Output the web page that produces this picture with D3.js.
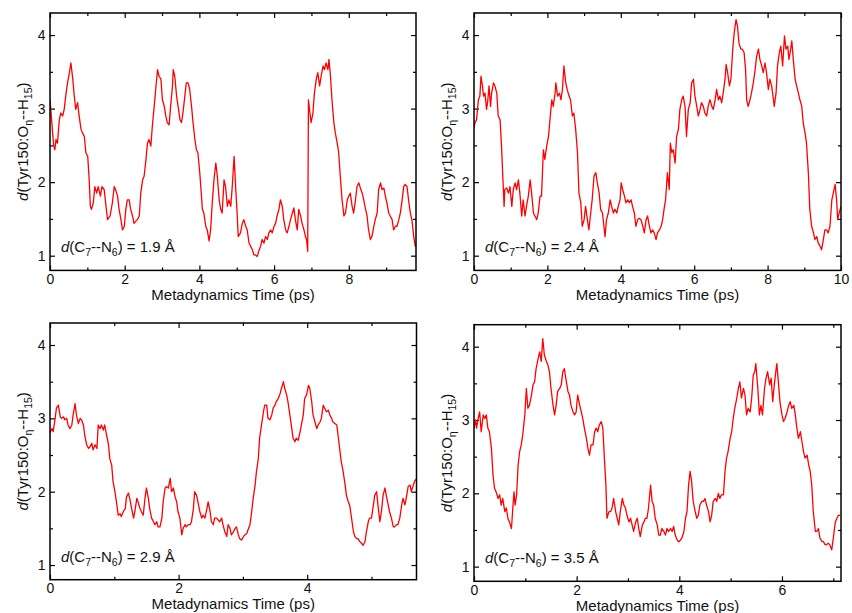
<!DOCTYPE html>
<html>
<head>
<meta charset="utf-8">
<script src="https://cdnjs.cloudflare.com/ajax/libs/d3/7.8.5/d3.min.js"></script>
<style>
  body { margin: 0; background: #fff; }
  svg { font-family: "Liberation Sans", Arial, Helvetica, sans-serif; }
</style>
</head>
<body>
<svg id="chart" width="852" height="613"></svg>
<script>
// [time (ps), d(Tyr150:O..H15) (A)]
var run19 = [[0,3.12],[0.03,2.94],[0.07,2.67],[0.1,2.49],[0.13,2.44],[0.16,2.58],[0.2,2.53],[0.25,2.85],[0.29,2.94],[0.34,2.9],[0.38,2.99],[0.43,3.21],[0.47,3.35],[0.52,3.49],[0.56,3.62],[0.61,3.4],[0.65,3.17],[0.69,2.99],[0.74,3.08],[0.78,2.9],[0.83,2.72],[0.87,2.67],[0.92,2.62],[0.96,2.4],[1.01,2.35],[1.05,2.03],[1.08,1.67],[1.11,1.63],[1.16,1.72],[1.2,1.94],[1.25,1.85],[1.29,1.94],[1.35,1.81],[1.39,1.94],[1.45,1.9],[1.5,1.67],[1.54,1.49],[1.61,1.54],[1.67,1.72],[1.72,1.94],[1.76,1.89],[1.81,1.81],[1.85,1.63],[1.9,1.49],[1.94,1.35],[1.99,1.4],[2.03,1.63],[2.07,1.76],[2.12,1.76],[2.16,1.63],[2.21,1.54],[2.25,1.44],[2.3,1.47],[2.34,1.49],[2.39,1.54],[2.43,1.85],[2.48,2.03],[2.52,2.08],[2.57,2.31],[2.61,2.53],[2.65,2.58],[2.7,2.49],[2.74,2.76],[2.79,3.03],[2.83,3.26],[2.88,3.53],[2.92,3.44],[2.97,3.4],[3.01,3.12],[3.06,3.03],[3.1,2.9],[3.14,2.81],[3.19,2.78],[3.23,3.03],[3.28,3.31],[3.3,3.53],[3.34,3.44],[3.39,3.17],[3.43,3.03],[3.48,2.85],[3.52,2.81],[3.56,2.94],[3.61,3.17],[3.65,3.35],[3.7,3.35],[3.74,3.26],[3.79,3.03],[3.83,2.81],[3.88,2.58],[3.92,2.44],[3.96,2.4],[4.01,2.13],[4.05,1.85],[4.08,1.63],[4.12,1.58],[4.17,1.4],[4.21,1.35],[4.26,1.2],[4.3,1.35],[4.35,1.76],[4.39,2.03],[4.44,2.26],[4.48,2.08],[4.53,1.76],[4.57,1.63],[4.61,1.58],[4.66,2.03],[4.7,1.94],[4.75,1.67],[4.79,1.76],[4.84,1.67],[4.88,1.94],[4.93,2.35],[4.97,1.94],[5.01,1.58],[5.04,1.26],[5.1,1.31],[5.15,1.44],[5.19,1.49],[5.24,1.4],[5.28,1.35],[5.33,1.17],[5.37,1.13],[5.42,1.08],[5.46,1.01],[5.5,1.01],[5.55,0.99],[5.59,1.06],[5.64,1.13],[5.68,1.22],[5.73,1.17],[5.77,1.26],[5.82,1.22],[5.86,1.31],[5.91,1.35],[5.95,1.31],[6,1.4],[6.04,1.44],[6.08,1.54],[6.13,1.63],[6.17,1.76],[6.22,1.67],[6.26,1.49],[6.31,1.35],[6.35,1.31],[6.4,1.4],[6.44,1.49],[6.49,1.58],[6.53,1.65],[6.57,1.49],[6.62,1.35],[6.66,1.63],[6.71,1.54],[6.75,1.44],[6.8,1.35],[6.84,1.26],[6.87,1.22],[6.9,1.06],[6.92,3.12],[6.96,2.94],[6.99,2.81],[7.04,2.94],[7.08,3.21],[7.13,3.4],[7.17,3.49],[7.22,3.31],[7.26,3.44],[7.31,3.58],[7.35,3.53],[7.39,3.62],[7.44,3.53],[7.47,3.67],[7.51,3.44],[7.55,3.12],[7.6,2.81],[7.64,2.67],[7.69,2.53],[7.73,2.4],[7.78,2.03],[7.82,1.76],[7.87,1.54],[7.91,1.58],[7.96,1.76],[8,1.81],[8.04,1.85],[8.09,1.67],[8.13,1.58],[8.18,1.76],[8.22,1.94],[8.27,1.99],[8.31,1.92],[8.36,1.85],[8.4,1.76],[8.45,1.63],[8.49,1.54],[8.53,1.35],[8.58,1.22],[8.62,1.26],[8.67,1.4],[8.71,1.49],[8.76,1.58],[8.8,1.9],[8.85,1.99],[8.89,1.9],[8.94,1.92],[8.98,1.81],[9.02,1.72],[9.07,1.58],[9.11,1.54],[9.16,1.49],[9.2,1.35],[9.25,1.4],[9.29,1.4],[9.34,1.49],[9.38,1.58],[9.43,1.76],[9.47,1.94],[9.51,1.97],[9.56,1.94],[9.6,1.76],[9.65,1.58],[9.69,1.49],[9.74,1.26],[9.78,1.13],[9.8,1.15]];

var run24 = [[0,2.74],[0.03,2.81],[0.07,2.85],[0.12,3.12],[0.16,3.17],[0.19,3.44],[0.23,3.31],[0.26,3.17],[0.3,3.21],[0.34,2.99],[0.37,3.08],[0.41,3.31],[0.45,3.03],[0.48,3.21],[0.53,3.35],[0.57,3.31],[0.62,3.21],[0.66,2.9],[0.71,2.85],[0.75,2.49],[0.78,2.13],[0.82,1.67],[0.84,1.9],[0.89,1.92],[0.94,1.85],[0.98,1.94],[1.03,1.67],[1.07,1.9],[1.12,1.99],[1.16,1.9],[1.21,2.03],[1.25,1.85],[1.3,1.54],[1.34,1.76],[1.39,1.54],[1.43,1.67],[1.48,1.81],[1.53,2.03],[1.57,1.85],[1.62,1.58],[1.66,1.54],[1.71,1.49],[1.75,1.58],[1.8,1.81],[1.84,1.81],[1.89,2.44],[1.93,2.31],[1.98,2.49],[2.03,2.62],[2.07,2.85],[2.12,3.12],[2.16,3.03],[2.21,3.21],[2.23,3.35],[2.28,3.17],[2.33,3.21],[2.37,3.12],[2.41,3.26],[2.45,3.58],[2.5,3.35],[2.54,3.26],[2.59,3.17],[2.63,3.12],[2.68,2.9],[2.72,2.94],[2.77,2.72],[2.82,2.4],[2.86,1.85],[2.91,1.72],[2.95,1.4],[3,1.49],[3.04,1.67],[3.09,1.49],[3.13,1.35],[3.18,1.58],[3.22,1.76],[3.27,2.08],[3.32,2.13],[3.36,1.99],[3.41,1.85],[3.45,1.63],[3.5,1.58],[3.54,1.4],[3.57,1.26],[3.61,1.49],[3.66,1.58],[3.71,1.76],[3.75,1.67],[3.8,1.58],[3.84,1.63],[3.89,1.58],[3.93,1.67],[3.98,1.76],[4.01,1.99],[4.05,1.9],[4.1,1.81],[4.14,1.72],[4.19,1.76],[4.23,1.72],[4.28,1.76],[4.32,1.67],[4.37,1.58],[4.41,1.4],[4.46,1.49],[4.5,1.51],[4.55,1.49],[4.6,1.4],[4.64,1.31],[4.69,1.49],[4.73,1.54],[4.78,1.4],[4.82,1.31],[4.87,1.35],[4.91,1.31],[4.96,1.22],[5,1.31],[5.05,1.35],[5.1,1.4],[5.14,1.49],[5.19,1.67],[5.22,1.76],[5.27,2.13],[5.32,1.9],[5.35,2.53],[5.39,2.4],[5.43,2.44],[5.48,2.26],[5.52,2.62],[5.57,2.72],[5.61,2.99],[5.66,3.12],[5.7,3.17],[5.75,3.03],[5.79,2.62],[5.84,2.99],[5.89,3.08],[5.93,3.35],[5.98,3.4],[6.02,3.17],[6.07,3.03],[6.11,2.9],[6.16,2.99],[6.2,3.08],[6.25,3.03],[6.29,2.94],[6.34,2.9],[6.38,3.03],[6.43,3.12],[6.48,3.03],[6.52,2.99],[6.57,3.12],[6.61,3.26],[6.66,3.12],[6.7,3.17],[6.75,3.08],[6.79,3.21],[6.84,3.4],[6.87,3.6],[6.91,3.49],[6.96,3.31],[7,3.4],[7.05,3.81],[7.09,4.03],[7.14,4.21],[7.18,4.12],[7.22,3.89],[7.27,3.81],[7.31,3.81],[7.36,3.76],[7.4,3.53],[7.43,3.12],[7.47,3.03],[7.52,3.12],[7.56,3.21],[7.61,3.35],[7.66,3.53],[7.7,3.71],[7.75,3.81],[7.79,3.67],[7.84,3.58],[7.88,3.49],[7.93,3.62],[7.97,3.49],[8.02,3.26],[8.06,3.4],[8.11,3.31],[8.16,3.12],[8.18,3.03],[8.23,3.21],[8.27,3.58],[8.32,3.76],[8.36,3.85],[8.41,3.58],[8.46,3.99],[8.5,3.81],[8.55,3.85],[8.58,3.67],[8.63,3.81],[8.66,3.92],[8.7,3.67],[8.75,3.4],[8.79,3.31],[8.84,3.21],[8.88,3.12],[8.93,3.03],[8.97,2.81],[9.02,2.67],[9.06,2.53],[9.11,2.13],[9.15,1.63],[9.2,1.4],[9.25,1.31],[9.29,1.22],[9.34,1.26],[9.38,1.17],[9.43,1.13],[9.47,1.08],[9.52,1.22],[9.56,1.35],[9.61,1.35],[9.65,1.31],[9.7,1.4],[9.75,1.76],[9.79,1.85],[9.84,1.97],[9.88,1.76],[9.91,1.49],[9.95,1.58],[10,1.67]];

var run29 = [[0,2.8],[0.03,2.86],[0.05,2.82],[0.08,3],[0.1,3.14],[0.13,3.18],[0.16,3.02],[0.18,3],[0.21,3.02],[0.23,2.98],[0.26,3],[0.28,2.91],[0.31,2.86],[0.34,2.91],[0.36,3.05],[0.39,3.2],[0.41,3.05],[0.44,2.93],[0.47,3],[0.49,2.98],[0.52,2.91],[0.54,2.77],[0.57,2.64],[0.6,2.59],[0.62,2.61],[0.65,2.66],[0.67,2.57],[0.7,2.64],[0.73,2.59],[0.75,2.91],[0.78,2.86],[0.8,2.91],[0.83,2.84],[0.85,2.91],[0.88,2.77],[0.91,2.64],[0.93,2.45],[0.96,2.36],[0.98,2.14],[1.01,2],[1.04,1.82],[1.06,1.68],[1.09,1.7],[1.11,1.66],[1.14,1.73],[1.17,1.77],[1.19,1.93],[1.22,1.98],[1.24,1.91],[1.27,1.77],[1.3,1.64],[1.32,1.73],[1.35,1.91],[1.37,1.86],[1.4,1.77],[1.42,1.73],[1.45,1.68],[1.48,1.93],[1.5,2.05],[1.53,1.91],[1.55,1.77],[1.58,1.64],[1.61,1.59],[1.63,1.55],[1.66,1.59],[1.68,1.52],[1.71,1.52],[1.74,1.64],[1.76,1.86],[1.79,2.05],[1.81,2.07],[1.84,2.05],[1.87,2.18],[1.89,2],[1.92,2.05],[1.94,1.95],[1.97,1.86],[1.99,1.73],[2.02,1.64],[2.05,1.41],[2.07,1.5],[2.1,1.55],[2.12,1.52],[2.15,1.55],[2.18,1.55],[2.2,1.59],[2.23,1.77],[2.25,2],[2.28,1.95],[2.31,1.82],[2.33,1.73],[2.36,1.64],[2.38,1.68],[2.41,1.64],[2.44,1.77],[2.46,1.86],[2.49,1.73],[2.51,1.59],[2.54,1.55],[2.56,1.64],[2.59,1.64],[2.62,1.61],[2.64,1.59],[2.67,1.64],[2.69,1.55],[2.72,1.45],[2.75,1.39],[2.77,1.55],[2.8,1.5],[2.82,1.41],[2.85,1.45],[2.88,1.5],[2.9,1.52],[2.93,1.41],[2.95,1.36],[2.98,1.34],[3.01,1.39],[3.03,1.41],[3.06,1.43],[3.08,1.48],[3.11,1.55],[3.13,1.68],[3.16,1.91],[3.19,2.09],[3.21,2.27],[3.24,2.45],[3.26,2.73],[3.29,2.91],[3.32,3.09],[3.34,3.18],[3.37,3.18],[3.39,3],[3.42,2.98],[3.45,3.05],[3.47,3.14],[3.5,3.18],[3.52,3.23],[3.55,3.27],[3.58,3.34],[3.6,3.41],[3.63,3.5],[3.65,3.41],[3.68,3.32],[3.7,3.23],[3.73,3.05],[3.76,2.86],[3.78,2.73],[3.81,2.68],[3.83,2.73],[3.86,2.7],[3.89,2.82],[3.91,2.91],[3.94,3.05],[3.96,3.27],[3.99,3.32],[4.02,3.45],[4.04,3.41],[4.07,3.23],[4.09,3.05],[4.12,2.95],[4.15,2.86],[4.17,2.91],[4.2,2.95],[4.22,3],[4.25,3.18],[4.27,3.14],[4.3,3.09],[4.33,3.11],[4.35,3.05],[4.38,3],[4.4,2.95],[4.43,2.93],[4.46,2.91],[4.48,2.77],[4.51,2.55],[4.53,2.41],[4.56,2.27],[4.59,2.09],[4.61,1.95],[4.64,1.86],[4.66,1.82],[4.69,1.64],[4.72,1.45],[4.74,1.39],[4.77,1.36],[4.79,1.36],[4.82,1.32],[4.84,1.3],[4.87,1.27],[4.9,1.32],[4.92,1.45],[4.95,1.59],[4.97,1.64],[5,1.64],[5.03,1.82],[5.05,1.95],[5.08,2],[5.1,1.82],[5.13,1.59],[5.16,1.77],[5.18,1.95],[5.21,2.05],[5.23,1.95],[5.26,1.82],[5.28,1.73],[5.31,1.64],[5.34,1.52],[5.36,1.52],[5.39,1.55],[5.41,1.55],[5.44,1.64],[5.47,1.82],[5.49,1.91],[5.52,1.82],[5.54,1.91],[5.57,2.07],[5.6,2.09],[5.62,2],[5.65,2.09],[5.67,2.14],[5.7,2.18]];

var run35 = [[0,2.89],[0.03,3],[0.05,2.89],[0.08,3.02],[0.11,3.11],[0.14,2.84],[0.18,3.07],[0.21,3.02],[0.24,3.07],[0.27,2.89],[0.3,2.84],[0.34,2.61],[0.37,2.25],[0.4,2.07],[0.43,2.02],[0.47,1.93],[0.5,1.98],[0.53,1.84],[0.56,1.93],[0.6,1.75],[0.63,1.8],[0.66,1.66],[0.69,1.61],[0.73,1.52],[0.76,1.84],[0.78,2.02],[0.8,1.84],[0.83,1.98],[0.86,2.39],[0.89,2.57],[0.92,2.66],[0.95,2.8],[0.99,3.07],[1.02,3.43],[1.05,3.16],[1.08,3.2],[1.12,3.34],[1.15,3.48],[1.18,3.52],[1.21,3.7],[1.25,3.84],[1.28,3.93],[1.31,3.8],[1.34,4.11],[1.37,3.89],[1.41,3.8],[1.44,3.75],[1.47,3.66],[1.5,3.43],[1.54,3.2],[1.57,3.07],[1.6,3.2],[1.63,3.39],[1.67,3.43],[1.7,3.48],[1.73,3.66],[1.76,3.7],[1.8,3.52],[1.83,3.39],[1.86,3.34],[1.89,3.2],[1.93,3.11],[1.96,3.07],[1.99,3.11],[2.02,3.34],[2.06,3.2],[2.09,3.11],[2.12,3.02],[2.15,2.89],[2.19,2.75],[2.22,2.61],[2.25,2.52],[2.28,2.66],[2.32,2.66],[2.35,2.84],[2.38,2.89],[2.41,2.84],[2.44,2.93],[2.48,2.98],[2.51,2.89],[2.54,2.48],[2.57,2.11],[2.59,1.66],[2.63,1.75],[2.66,1.75],[2.69,1.8],[2.72,1.93],[2.76,1.75],[2.79,1.66],[2.82,1.57],[2.85,1.75],[2.89,1.93],[2.92,1.84],[2.95,1.8],[2.98,1.7],[3.02,1.61],[3.05,1.66],[3.08,1.57],[3.11,1.48],[3.15,1.61],[3.18,1.66],[3.21,1.52],[3.24,1.41],[3.28,1.57],[3.31,1.61],[3.34,1.66],[3.37,1.66],[3.4,1.8],[3.44,2.11],[3.47,1.89],[3.5,1.84],[3.53,1.66],[3.57,1.57],[3.6,1.43],[3.63,1.43],[3.66,1.52],[3.7,1.48],[3.73,1.43],[3.76,1.52],[3.79,1.48],[3.83,1.52],[3.86,1.48],[3.89,1.55],[3.92,1.43],[3.96,1.36],[3.99,1.34],[4.02,1.36],[4.05,1.39],[4.09,1.48],[4.12,1.66],[4.15,1.75],[4.18,2.11],[4.21,2.3],[4.24,2.16],[4.27,1.89],[4.31,1.75],[4.34,1.66],[4.37,1.7],[4.4,1.84],[4.44,1.89],[4.47,1.89],[4.5,1.93],[4.53,1.84],[4.57,1.75],[4.6,1.61],[4.63,1.7],[4.66,1.89],[4.7,1.93],[4.73,1.89],[4.76,2],[4.79,1.93],[4.82,1.98],[4.86,1.98],[4.89,2.3],[4.92,2.48],[4.95,2.57],[4.99,2.75],[5.02,2.84],[5.05,3.02],[5.08,3.16],[5.12,3.3],[5.15,3.43],[5.18,3.52],[5.21,3.3],[5.25,3.43],[5.28,3.34],[5.31,3.07],[5.34,3.16],[5.38,3.11],[5.41,3.3],[5.44,3.61],[5.47,3.66],[5.49,3.77],[5.53,3.43],[5.56,3.07],[5.59,3.2],[5.62,3.07],[5.66,3.43],[5.69,3.57],[5.72,3.66],[5.76,3.48],[5.79,3.57],[5.82,3.25],[5.85,3.48],[5.88,3.66],[5.9,3.77],[5.93,3.52],[5.96,3.25],[6,3.07],[6.03,2.98],[6.06,3.02],[6.1,3.11],[6.13,3.2],[6.16,3.25],[6.19,3.16],[6.23,3.2],[6.26,3.07],[6.29,2.89],[6.32,2.75],[6.36,2.84],[6.39,2.7],[6.42,2.57],[6.45,2.48],[6.49,2.52],[6.52,2.39],[6.55,2.3],[6.58,2.11],[6.61,1.75],[6.65,1.48],[6.68,1.48],[6.71,1.52],[6.74,1.39],[6.78,1.34],[6.81,1.34],[6.84,1.3],[6.87,1.3],[6.9,1.32],[6.93,1.3],[6.97,1.23],[7,1.39],[7.04,1.61],[7.07,1.66],[7.1,1.7],[7.13,1.7]];

var runs = [run19, run24, run29, run35];
var dLabels = ["1.9", "2.4", "2.9", "3.5"];
var xMax = [9.8, 10, 5.7, 7.15];
var xTicks = [[0, 2, 4, 6, 8], [0, 2, 4, 6, 8, 10], [0, 2, 4], [0, 2, 4, 6]];
var yTicks = [1, 2, 3, 4];
var yDomain = [0.8, 4.3];

// panel frames in page pixels
var boxes = [
  {x0: 50, x1: 416, y0: 13, y1: 270.4},
  {x0: 474, x1: 841, y0: 13, y1: 270.4},
  {x0: 50, x1: 416.5, y0: 323, y1: 579.7},
  {x0: 474, x1: 841, y0: 324.7, y1: 581.3}
];

var svg = d3.select("#chart");

function tickStyle(g) {
  g.select(".domain").remove();
  g.selectAll("line").attr("stroke", "#000").attr("stroke-width", 1.2);
  g.selectAll("text").attr("fill", "#111").style("font-size", "14px");
}

runs.forEach(function(data, i) {
  var b = boxes[i];
  var x = d3.scaleLinear().domain([0, xMax[i]]).range([b.x0, b.x1]);
  var y = d3.scaleLinear().domain(yDomain).range([b.y1, b.y0]);
  var xMinor = d3.range(1, xMax[i], 2);
  var yMinor = [1.5, 2.5, 3.5];
  var p = svg.append("g");

  // bottom / left with labels, top / right ticks only; all pointing inward
  p.append("g").attr("transform", "translate(0," + b.y1 + ")")
    .call(d3.axisBottom(x).tickValues(xTicks[i]).tickSize(-5).tickPadding(3.5).tickFormat(d3.format("d")))
    .call(tickStyle);
  p.append("g").attr("transform", "translate(0," + b.y1 + ")")
    .call(d3.axisBottom(x).tickValues(xMinor).tickSize(-3).tickFormat(""))
    .call(tickStyle);
  p.append("g").attr("transform", "translate(0," + b.y0 + ")")
    .call(d3.axisTop(x).tickValues(xTicks[i]).tickSize(-5).tickFormat(""))
    .call(tickStyle);
  p.append("g").attr("transform", "translate(0," + b.y0 + ")")
    .call(d3.axisTop(x).tickValues(xMinor).tickSize(-3).tickFormat(""))
    .call(tickStyle);

  p.append("g").attr("transform", "translate(" + b.x0 + ",0)")
    .call(d3.axisLeft(y).tickValues(yTicks).tickSize(-5).tickPadding(4.5).tickFormat(d3.format("d")))
    .call(tickStyle);
  p.append("g").attr("transform", "translate(" + b.x0 + ",0)")
    .call(d3.axisLeft(y).tickValues(yMinor).tickSize(-3).tickFormat(""))
    .call(tickStyle);
  p.append("g").attr("transform", "translate(" + b.x1 + ",0)")
    .call(d3.axisRight(y).tickValues(yTicks).tickSize(-5).tickFormat(""))
    .call(tickStyle);
  p.append("g").attr("transform", "translate(" + b.x1 + ",0)")
    .call(d3.axisRight(y).tickValues(yMinor).tickSize(-3).tickFormat(""))
    .call(tickStyle);

  p.append("defs").append("clipPath").attr("id", "clip" + i)
    .append("rect")
    .attr("x", b.x0).attr("y", b.y0)
    .attr("width", b.x1 - b.x0).attr("height", b.y1 - b.y0);

  var line = d3.line()
    .x(function(d) { return x(d[0]); })
    .y(function(d) { return y(d[1]); });

  p.append("path")
    .datum(data)
    .attr("clip-path", "url(#clip" + i + ")")
    .attr("d", line)
    .attr("fill", "none")
    .attr("stroke", "#ff0000")
    .attr("stroke-width", 1.3)
    .attr("stroke-linejoin", "round");

  p.append("rect")
    .attr("x", b.x0).attr("y", b.y0)
    .attr("width", b.x1 - b.x0).attr("height", b.y1 - b.y0)
    .attr("fill", "none")
    .attr("stroke", "#000")
    .attr("stroke-width", 1.5);

  // x title
  p.append("text")
    .attr("x", (b.x0 + b.x1) / 2)
    .attr("y", b.y1 + 29.2)
    .attr("text-anchor", "middle")
    .attr("fill", "#111")
    .style("font-size", "15px")
    .text("Metadynamics Time (ps)");

  // y title
  var yt = p.append("text")
    .attr("transform", "translate(" + (b.x0 - 22) + "," + ((b.y0 + b.y1) / 2) + ")rotate(-90)")
    .attr("text-anchor", "middle")
    .attr("fill", "#111")
    .style("font-size", "15px");
  yt.append("tspan").style("font-style", "italic").text("d");
  yt.append("tspan").text("(Tyr150:O");
  yt.append("tspan").attr("dy", 4).style("font-size", "10.5px").text("\u03b7");
  yt.append("tspan").attr("dy", -4).text("--H");
  yt.append("tspan").attr("dy", 4).style("font-size", "10.5px").text("15");
  yt.append("tspan").attr("dy", -4).text(")");

  // annotation
  var an = p.append("text")
    .attr("x", b.x0 + 11)
    .attr("y", b.y1 - 18)
    .attr("fill", "#111")
    .style("font-size", "15px");
  an.append("tspan").style("font-style", "italic").text("d");
  an.append("tspan").text("(C");
  an.append("tspan").attr("dy", 4).style("font-size", "10.5px").text("7");
  an.append("tspan").attr("dy", -4).text("--N");
  an.append("tspan").attr("dy", 4).style("font-size", "10.5px").text("6");
  an.append("tspan").attr("dy", -4).text(") = " + dLabels[i] + " \u00c5");
});
</script>
</body>
</html>
